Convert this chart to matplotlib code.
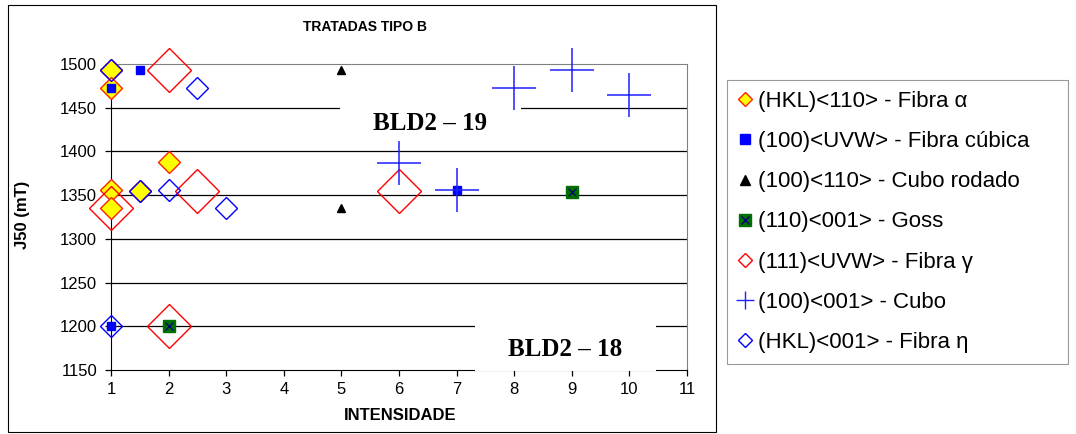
import matplotlib.pyplot as plt
from matplotlib.patches import Rectangle
from matplotlib.lines import Line2D
from matplotlib.legend_handler import HandlerTuple

plt.rcParams['font.family'] = ['Liberation Sans', 'DejaVu Sans']

# (HKL)<110> - Fibra alpha
alfa_x = [1, 1, 2, 1, 1, 1.5]
alfa_y = [1493, 1472, 1388, 1356, 1335, 1355]
# (100)<UVW> - Fibra cubica
cubica_x = [1, 1.5, 1, 7]
cubica_y = [1472, 1493, 1200, 1356]
# (100)<110> - Cubo rodado
rodado_x = [5, 5]
rodado_y = [1493, 1335]
# (110)<001> - Goss
goss_x = [2, 9]
goss_y = [1200, 1354]
# (111)<UVW> - Fibra gamma
gama_x = [1, 2, 2.5, 6, 2]
gama_y = [1335, 1493, 1355, 1355, 1200]
# (100)<001> - Cubo
cubo_x = [6, 7, 8, 9, 10]
cubo_y = [1387, 1356, 1472, 1493, 1465]
# (HKL)<001> - Fibra eta
eta_x = [1, 1.5, 2, 2.5, 3, 1]
eta_y = [1493, 1355, 1356, 1472, 1335, 1200]

labels = ["(HKL)<110> - Fibra α", "(100)<UVW> - Fibra cúbica",
          "(100)<110> - Cubo rodado", "(110)<001> - Goss",
          "(111)<UVW> - Fibra γ", "(100)<001> - Cubo",
          "(HKL)<001> - Fibra η"]

fig = plt.figure(figsize=(10.76, 4.34), dpi=100)
ax = fig.add_axes([0.1032, 0.1475, 0.5353, 0.7051])

ax.set_xlim(1, 11)
ax.set_ylim(1150, 1500)
ax.set_xticks(range(1, 12))
ax.set_yticks(range(1150, 1501, 50))
for v in range(1200, 1500, 50):
    ax.axhline(v, color='black', lw=0.9, zorder=0.5)
ax.spines['top'].set_color('#808080')
ax.spines['right'].set_color('#808080')
ax.tick_params(direction='out', length=4, labelsize=12, width=0.9)
ax.tick_params(axis='x', pad=5)
ax.tick_params(axis='y', pad=6)

blue = '#0000FF'
kw = dict(linestyle='none', clip_on=False)
ax.plot(alfa_x, alfa_y, marker='D', ms=10.7, mfc='#FFFF00', mec='#FF2000',
        mew=1.0, zorder=3, **kw)
ax.plot(cubica_x, cubica_y, marker='s', ms=5.2, mfc=blue, mec=blue,
        zorder=4, **kw)
ax.plot(rodado_x, rodado_y, marker='^', ms=6, mfc='black', mec='black',
        zorder=5, **kw)
ax.plot(goss_x, goss_y, marker='s', ms=8, mfc='#007000', mec='#007000',
        zorder=6, **kw)
ax.plot(goss_x, goss_y, marker='x', ms=6, mec='#000080', mew=0.9,
        zorder=6.5, **kw)
ax.plot(gama_x, gama_y, marker='D', ms=21.9, mfc='none', mec='#FF0000',
        mew=1.0, zorder=7, **kw)
ax.plot(cubo_x, cubo_y, marker='+', ms=31, mec='#2020FF', mew=1.1,
        zorder=8, **kw)
ax.plot(eta_x, eta_y, marker='D', ms=11.7, mfc='none', mec=blue,
        mew=1.0, zorder=9, **kw)

# white boxes behind labels
ax.add_patch(Rectangle((4.98, 1405), 3.14, 50, facecolor='white',
                       edgecolor='none', zorder=1))
ax.add_patch(Rectangle((7.32, 1149.2), 3.14, 60, facecolor='white',
                       edgecolor='none', zorder=2.8, clip_on=False))
ax.text(6.54, 1432, "BLD2 – 19", family='Liberation Serif',
        fontweight='bold', fontsize=18, ha='center', va='center', zorder=10)
ax.text(8.88, 1173, "BLD2 – 18", family='Liberation Serif',
        fontweight='bold', fontsize=18, ha='center', va='center', zorder=10)

fig.text(365 / 1076, 1 - 27 / 434, "TRATADAS TIPO B", fontsize=10,
         fontweight='bold', ha='center', va='center')
fig.text(22 / 1076, 1 - 215 / 434, "J50 (mT)", fontsize=12,
         fontweight='bold', ha='center', va='center', rotation=90)
fig.text(400 / 1076, 1 - 416 / 434, "INTENSIDADE", fontsize=12,
         fontweight='bold', ha='center', va='center')

# outer chart frame
fig.patches.append(Rectangle((8 / 1076, 2 / 434), 708 / 1076, 427 / 434,
                             transform=fig.transFigure, fill=False,
                             edgecolor='black', lw=0.8))

handles = [
    Line2D([], [], ls='none', marker='D', ms=7, mfc='#FFFF00', mec='#FF2000'),
    Line2D([], [], ls='none', marker='s', ms=7, mfc=blue, mec=blue),
    Line2D([], [], ls='none', marker='^', ms=7, mfc='black', mec='black'),
    (Line2D([], [], ls='none', marker='s', ms=8, mfc='#007000', mec='#007000'),
     Line2D([], [], ls='none', marker='x', ms=6, mec='#000080')),
    Line2D([], [], ls='none', marker='D', ms=7, mfc='none', mec='#FF0000'),
    Line2D([], [], ls='none', marker='+', ms=13, mec='#2020FF'),
    Line2D([], [], ls='none', marker='D', ms=7, mfc='none', mec=blue),
]
leg = fig.legend(handles, labels, loc='upper left', mode='expand',
                 bbox_to_anchor=(727 / 1076, 0, 341 / 1076, 1 - 80 / 434),
                 fontsize=16, frameon=True, fancybox=False,
                 edgecolor='#808080', handlelength=0.6, handletextpad=0.3,
                 labelspacing=0.86, borderpad=0.5, borderaxespad=0,
                 handler_map={tuple: HandlerTuple(ndivide=1, pad=0)})
leg.get_frame().set_linewidth(0.8)

fig.savefig('out.png', dpi=100)
